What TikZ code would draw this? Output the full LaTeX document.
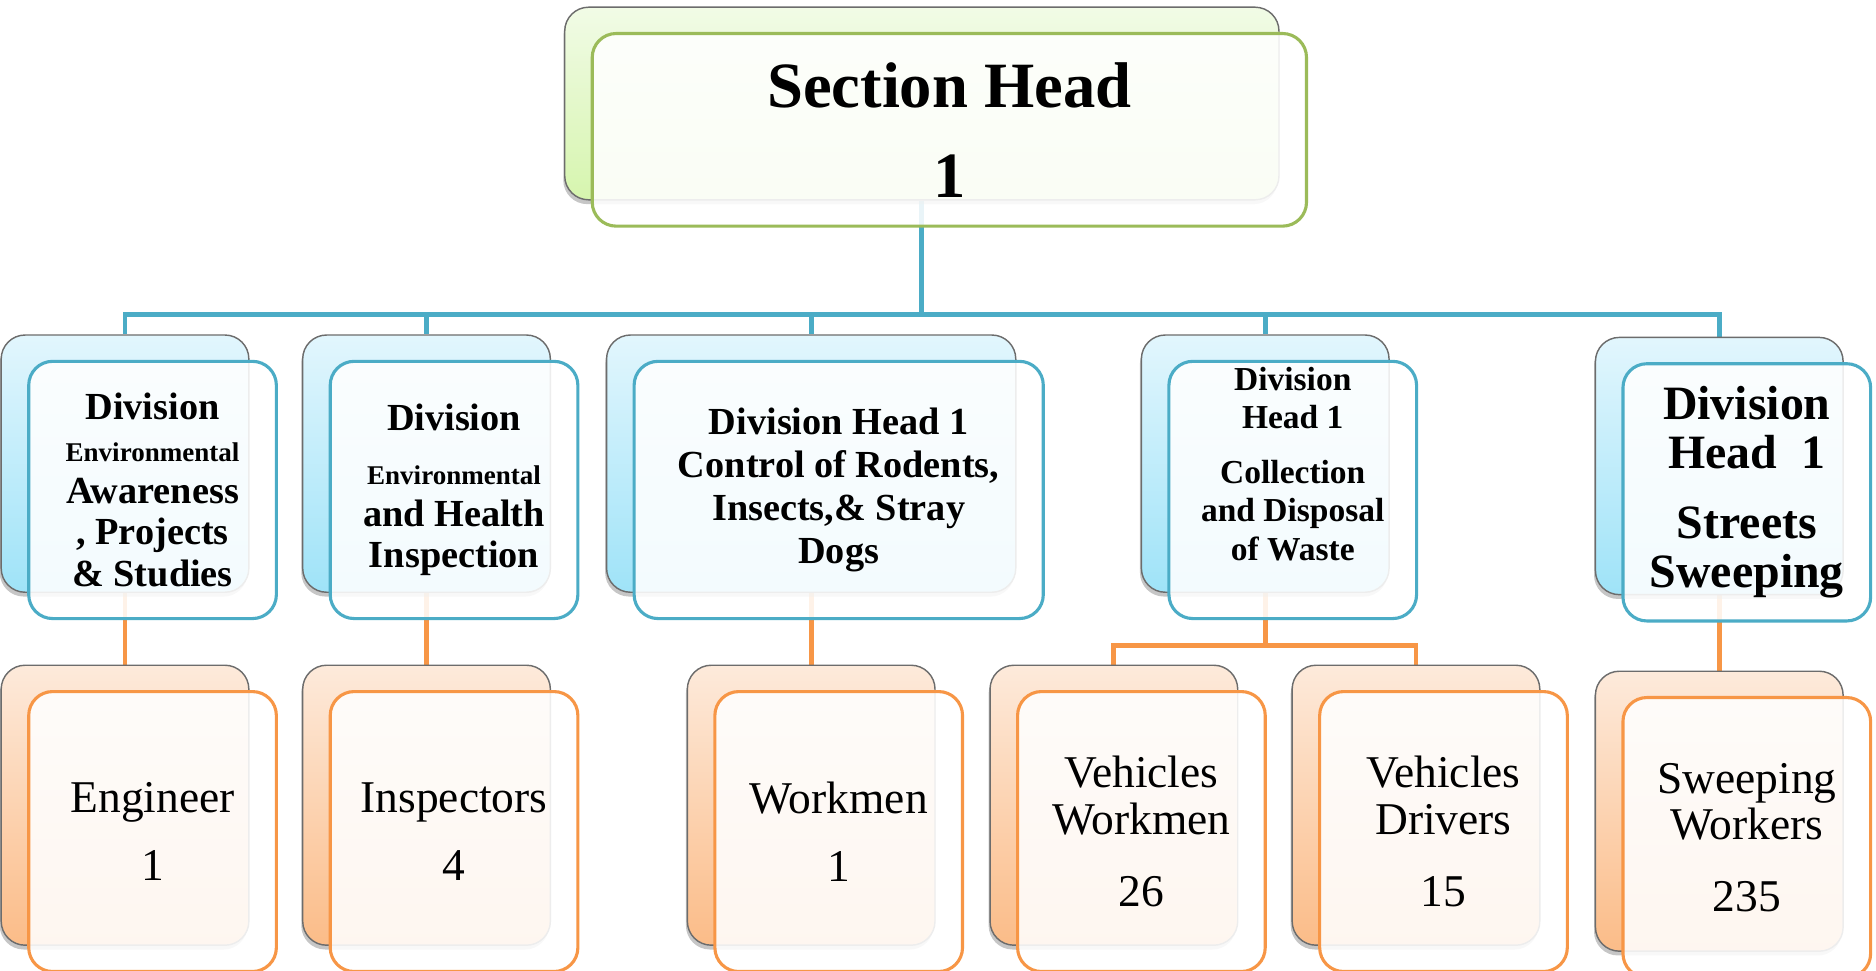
\documentclass[tikz,border=0pt]{standalone}
\usepackage{fontspec}
\setmainfont{Liberation Serif}
\usetikzlibrary{shadows,backgrounds}

\definecolor{linkblue}{HTML}{4BACC6}
\definecolor{linkorange}{HTML}{F79646}
\definecolor{headgreen}{HTML}{9BBB59}
\definecolor{bluetop}{HTML}{E2F6FD}
\definecolor{bluebot}{HTML}{9FE3F8}
\definecolor{orangetop}{HTML}{FDEADB}
\definecolor{orangebot}{HTML}{FBBC88}
\definecolor{greentop}{HTML}{F1FBE6}
\definecolor{greenbot}{HTML}{D6F5AE}

\tikzset{
  every node/.style={inner sep=0pt},
  backbox/.style={draw=gray!85!black, line width=0.6pt, rounded corners=10pt,
    drop shadow={shadow xshift=-0.6pt, shadow yshift=-1.8pt, opacity=0.45}},
  frontbox/.style={line width=1.3pt, rounded corners=10pt, fill=white,
    fill opacity=0.88, text opacity=1, align=center},
  greenback/.style={backbox, top color=greentop, bottom color=greenbot},
  greenfront/.style={frontbox, draw=headgreen},
  blueback/.style={backbox, top color=bluetop, bottom color=bluebot},
  bluefront/.style={frontbox, draw=linkblue},
  orangeback/.style={backbox, top color=orangetop, bottom color=orangebot},
  orangefront/.style={frontbox, draw=linkorange},
  headsize/.style={minimum width=298.5pt, minimum height=80.5pt,
    font=\fontsize{27}{30}\bfseries},
  divsize/.style={minimum width=103.5pt, minimum height=107.5pt,
    font=\fontsize{16}{17.5}\bfseries},
  widesize/.style={divsize, minimum width=171pt,
    font=\fontsize{16}{18}\bfseries},
  staffsize/.style={minimum width=103.5pt, minimum height=117pt,
    font=\fontsize{19}{19.5}\selectfont},
  bluelink/.style={draw=linkblue, line width=2pt},
  orangelink/.style={draw=linkorange, line width=2pt},
}

% name, centre, colour, size, text
\newcommand\orgbox[5]{%
  \node[#3back,#4,shift={(-23,-22)}] (b#1) at (#2) {};
  \node[#3front,#4] (#1) at (#2) {#5};
}

\newcommand\smallfont{\fontsize{11.3}{13}\bfseries}

\begin{document}
\begin{tikzpicture}[x=0.5pt,y=-0.5pt]
\useasboundingbox (0,0) rectangle (1568,811);
\clip (0,0) rectangle (1568,811);

% head of section
\orgbox{head}{793.5,108.5}{green}{headsize}{Section Head\\[7.5pt]1}

% divisions
\orgbox{d1}{127.5,409.5}{blue}{divsize}{Division\\{\smallfont Environmental}\\Awareness\\, Projects\\\& Studies}
\orgbox{d2}{379.5,409.5}{blue}{divsize}{Division\\[5pt]{\smallfont Environmental}\\and Health\\Inspection}
\orgbox{d3}{701,409.5}{blue}{widesize}{Division Head 1\\Control of Rodents,\\Insects,\& Stray\\Dogs}
\orgbox{d4}{1080.5,409.5}{blue}{divsize,font=\fontsize{14}{16}\bfseries}{Division\\Head 1\\[7pt]Collection\\and Disposal\\of Waste\\[6pt]~}
\orgbox{d5}{1460,411.5}{blue}{divsize,font=\fontsize{20}{20.5}\bfseries}{Division\\Head\ \ 1\\[8.5pt]Streets\\Sweeping}

% staff
\orgbox{s1}{127.5,695}{orange}{staffsize}{Engineer\\[9pt]1}
\orgbox{s2}{379.5,695}{orange}{staffsize}{Inspectors\\[9pt]4}
\orgbox{s3}{701,695}{orange}{staffsize}{Workmen\\[9pt]1}
\orgbox{s4}{954,695}{orange}{staffsize}{Vehicles\\Workmen\\[10.5pt]26}
\orgbox{s5}{1206.5,695}{orange}{staffsize}{Vehicles\\Drivers\\[10.5pt]15}
\orgbox{s6}{1460,700}{orange}{staffsize}{Sweeping\\Workers\\[10.5pt]235}

% links
\begin{scope}[on background layer]
  \foreach \d in {d1,d2,d3,d4,d5}
    \draw[bluelink] (bhead.south) -- ++(0,95) -| (b\d.north);
  \foreach \d/\s in {d1/s1,d2/s2,d3/s3,d5/s6}
    \draw[orangelink] (b\d.south) -- (b\s.north);
  \foreach \s in {s4,s5}
    \draw[orangelink] (bd4.south) -- ++(0,44) -| (b\s.north);
\end{scope}
\end{tikzpicture}
\end{document}
